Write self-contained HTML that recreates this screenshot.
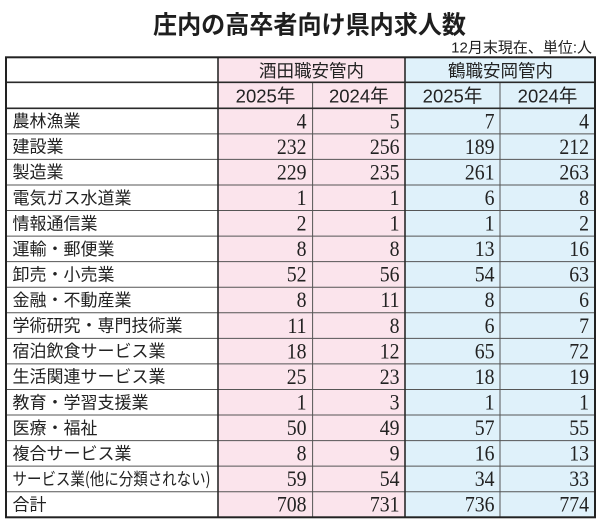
<!DOCTYPE html>
<html>
<head>
<meta charset="utf-8">
<style>
  html, body { margin:0; padding:0; background:#fff; }
  body { width:600px; height:523px; overflow:hidden; }
  svg { display:block; }
  .ttl { font-family:"Liberation Sans","Noto Sans CJK JP",sans-serif; font-weight:700; fill:#1e1e1e; }
  .sub { font-family:"Liberation Sans","Noto Sans CJK JP",sans-serif; fill:#1e1e1e; }
  .hd  { font-family:"Liberation Sans","Noto Sans CJK JP",sans-serif; fill:#222; }
  .lb  { font-family:"Noto Sans CJK JP","Liberation Sans",sans-serif; font-size:17px; fill:#222; }
  .nm  { font-family:"Liberation Serif",serif; font-size:22px; fill:#222; }
</style>
</head>
<body>
<svg width="600" height="523" viewBox="0 0 600 523" xmlns="http://www.w3.org/2000/svg">
  <!-- title -->
  <text class="ttl" x="153" y="33.5" font-size="25" textLength="313" lengthAdjust="spacingAndGlyphs">庄内の高卒者向け県内求人数</text>
  <text class="sub" x="592" y="52.5" font-size="15" text-anchor="end">12月末現在、単位:人</text>

  <!-- fills -->
  <rect x="218" y="57.3" width="187" height="460" fill="#fbe4ec"/>
  <rect x="405" y="57.3" width="190" height="460" fill="#dff1fa"/>

  <!-- thin data lines -->
  <g stroke="#555" stroke-width="1">
    <line x1="5" x2="595" y1="133.86" y2="133.86"/>
    <line x1="5" x2="595" y1="159.43" y2="159.43"/>
    <line x1="5" x2="595" y1="184.99" y2="184.99"/>
    <line x1="5" x2="595" y1="210.55" y2="210.55"/>
    <line x1="5" x2="595" y1="236.11" y2="236.11"/>
    <line x1="5" x2="595" y1="261.68" y2="261.68"/>
    <line x1="5" x2="595" y1="287.24" y2="287.24"/>
    <line x1="5" x2="595" y1="312.80" y2="312.80"/>
    <line x1="5" x2="595" y1="338.36" y2="338.36"/>
    <line x1="5" x2="595" y1="363.93" y2="363.93"/>
    <line x1="5" x2="595" y1="389.49" y2="389.49"/>
    <line x1="5" x2="595" y1="415.05" y2="415.05"/>
    <line x1="5" x2="595" y1="440.61" y2="440.61"/>
    <line x1="5" x2="595" y1="466.18" y2="466.18"/>
    <line x1="5" x2="595" y1="491.74" y2="491.74"/>
    <line x1="312.6" x2="312.6" y1="82.3" y2="517.3"/>
    <line x1="500" x2="500" y1="82.3" y2="517.3"/>
  </g>
  <!-- thicker lines -->
  <g stroke="#2a2a2a" stroke-width="1.6">
    <line x1="5" x2="595" y1="82.3" y2="82.3"/>
    <line x1="5" x2="595" y1="108.3" y2="108.3"/>
    <line x1="218" x2="218" y1="57.3" y2="517.3"/>
    <line x1="405" x2="405" y1="57.3" y2="517.3"/>
  </g>
  <rect x="6" y="57.3" width="589" height="460" fill="none" stroke="#222" stroke-width="2"/>

  <!-- headers -->
  <text class="hd" x="311.5" y="77" font-size="17.5" text-anchor="middle">酒田職安管内</text>
  <text class="hd" x="500.5" y="77" font-size="17.5" text-anchor="middle">鶴職安岡管内</text>
  <text class="hd" x="265.5" y="102.7" font-size="18.5" text-anchor="middle">2025年</text>
  <text class="hd" x="358.8" y="102.7" font-size="18.5" text-anchor="middle">2024年</text>
  <text class="hd" x="452.5" y="102.7" font-size="18.5" text-anchor="middle">2025年</text>
  <text class="hd" x="547.5" y="102.7" font-size="18.5" text-anchor="middle">2024年</text>

  <!-- labels -->
  <text class="lb" x="12.5" y="127.1">農林漁業</text>
  <text class="lb" x="12.5" y="152.7">建設業</text>
  <text class="lb" x="12.5" y="178.2">製造業</text>
  <text class="lb" x="12.5" y="203.8">電気ガス水道業</text>
  <text class="lb" x="12.5" y="229.4">情報通信業</text>
  <text class="lb" x="12.5" y="254.9">運輸・郵便業</text>
  <text class="lb" x="12.5" y="280.5">卸売・小売業</text>
  <text class="lb" x="12.5" y="306.0">金融・不動産業</text>
  <text class="lb" x="12.5" y="331.6">学術研究・専門技術業</text>
  <text class="lb" x="12.5" y="357.2">宿泊飲食サービス業</text>
  <text class="lb" x="12.5" y="382.7">生活関連サービス業</text>
  <text class="lb" x="12.5" y="408.3">教育・学習支援業</text>
  <text class="lb" x="12.5" y="433.9">医療・福祉</text>
  <text class="lb" x="12.5" y="459.4">複合サービス業</text>
  <text class="lb" x="12.5" y="485.0" textLength="198" lengthAdjust="spacingAndGlyphs">サービス業(他に分類されない)</text>
  <text class="lb" x="12.5" y="510.5">合計</text>

  <!-- numbers -->
  <g class="nm" text-anchor="end">
    <text transform="translate(306.5,128.3) scale(0.9,1)">4</text>
    <text transform="translate(399.5,128.3) scale(0.9,1)">5</text>
    <text transform="translate(494.5,128.3) scale(0.9,1)">7</text>
    <text transform="translate(589,128.3) scale(0.9,1)">4</text>

    <text transform="translate(306.5,153.9) scale(0.9,1)">232</text>
    <text transform="translate(399.5,153.9) scale(0.9,1)">256</text>
    <text transform="translate(494.5,153.9) scale(0.9,1)">189</text>
    <text transform="translate(589,153.9) scale(0.9,1)">212</text>

    <text transform="translate(306.5,179.4) scale(0.9,1)">229</text>
    <text transform="translate(399.5,179.4) scale(0.9,1)">235</text>
    <text transform="translate(494.5,179.4) scale(0.9,1)">261</text>
    <text transform="translate(589,179.4) scale(0.9,1)">263</text>

    <text transform="translate(306.5,205.0) scale(0.9,1)">1</text>
    <text transform="translate(399.5,205.0) scale(0.9,1)">1</text>
    <text transform="translate(494.5,205.0) scale(0.9,1)">6</text>
    <text transform="translate(589,205.0) scale(0.9,1)">8</text>

    <text transform="translate(306.5,230.6) scale(0.9,1)">2</text>
    <text transform="translate(399.5,230.6) scale(0.9,1)">1</text>
    <text transform="translate(494.5,230.6) scale(0.9,1)">1</text>
    <text transform="translate(589,230.6) scale(0.9,1)">2</text>

    <text transform="translate(306.5,256.1) scale(0.9,1)">8</text>
    <text transform="translate(399.5,256.1) scale(0.9,1)">8</text>
    <text transform="translate(494.5,256.1) scale(0.9,1)">13</text>
    <text transform="translate(589,256.1) scale(0.9,1)">16</text>

    <text transform="translate(306.5,281.7) scale(0.9,1)">52</text>
    <text transform="translate(399.5,281.7) scale(0.9,1)">56</text>
    <text transform="translate(494.5,281.7) scale(0.9,1)">54</text>
    <text transform="translate(589,281.7) scale(0.9,1)">63</text>

    <text transform="translate(306.5,307.2) scale(0.9,1)">8</text>
    <text transform="translate(399.5,307.2) scale(0.9,1)">11</text>
    <text transform="translate(494.5,307.2) scale(0.9,1)">8</text>
    <text transform="translate(589,307.2) scale(0.9,1)">6</text>

    <text transform="translate(306.5,332.8) scale(0.9,1)">11</text>
    <text transform="translate(399.5,332.8) scale(0.9,1)">8</text>
    <text transform="translate(494.5,332.8) scale(0.9,1)">6</text>
    <text transform="translate(589,332.8) scale(0.9,1)">7</text>

    <text transform="translate(306.5,358.4) scale(0.9,1)">18</text>
    <text transform="translate(399.5,358.4) scale(0.9,1)">12</text>
    <text transform="translate(494.5,358.4) scale(0.9,1)">65</text>
    <text transform="translate(589,358.4) scale(0.9,1)">72</text>

    <text transform="translate(306.5,383.9) scale(0.9,1)">25</text>
    <text transform="translate(399.5,383.9) scale(0.9,1)">23</text>
    <text transform="translate(494.5,383.9) scale(0.9,1)">18</text>
    <text transform="translate(589,383.9) scale(0.9,1)">19</text>

    <text transform="translate(306.5,409.5) scale(0.9,1)">1</text>
    <text transform="translate(399.5,409.5) scale(0.9,1)">3</text>
    <text transform="translate(494.5,409.5) scale(0.9,1)">1</text>
    <text transform="translate(589,409.5) scale(0.9,1)">1</text>

    <text transform="translate(306.5,435.1) scale(0.9,1)">50</text>
    <text transform="translate(399.5,435.1) scale(0.9,1)">49</text>
    <text transform="translate(494.5,435.1) scale(0.9,1)">57</text>
    <text transform="translate(589,435.1) scale(0.9,1)">55</text>

    <text transform="translate(306.5,460.6) scale(0.9,1)">8</text>
    <text transform="translate(399.5,460.6) scale(0.9,1)">9</text>
    <text transform="translate(494.5,460.6) scale(0.9,1)">16</text>
    <text transform="translate(589,460.6) scale(0.9,1)">13</text>

    <text transform="translate(306.5,486.2) scale(0.9,1)">59</text>
    <text transform="translate(399.5,486.2) scale(0.9,1)">54</text>
    <text transform="translate(494.5,486.2) scale(0.9,1)">34</text>
    <text transform="translate(589,486.2) scale(0.9,1)">33</text>

    <text transform="translate(306.5,511.7) scale(0.9,1)">708</text>
    <text transform="translate(399.5,511.7) scale(0.9,1)">731</text>
    <text transform="translate(494.5,511.7) scale(0.9,1)">736</text>
    <text transform="translate(589,511.7) scale(0.9,1)">774</text>
  </g>
</svg>
</body>
</html>
